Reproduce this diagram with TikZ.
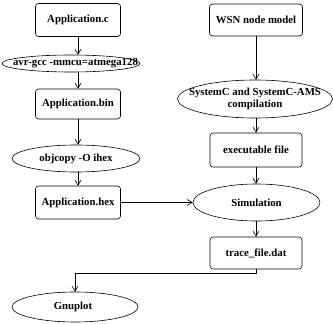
\documentclass[tikz,border=0pt]{standalone}
\usepackage{fontspec}
\setmainfont{Liberation Serif}
\usetikzlibrary{
	shapes.geometric,
	arrows.meta
}
\tikzset{
	file box/.style={
		draw,
		rounded corners=3pt,
		inner sep=2pt
	},
	tool/.style={
		draw,
		ellipse,
		inner sep=0pt
	},
	flow/.style={
		-{Straight Barb[length=5pt,width=6pt]}
	}
}

\begin{document}
\begin{tikzpicture}[x=1pt, y=-1pt, line width=0.6pt, font=\fontsize{10.8}{12}\selectfont\bfseries]
	\useasboundingbox (0,0) rectangle (333,324);
	%%%%% microcontroller side
	\node [file box, minimum width=85pt, minimum height=33pt] (appc) at (78,20) {Application.c};
	\node [tool, minimum width=138pt, minimum height=17pt,
		label={[xshift=4.5pt]center:avr-gcc -mmcu=atmega128}] (avrgcc) at (71,63.5) {};
	\node [file box, minimum width=85pt, minimum height=30pt] (appbin) at (78,104) {Application.bin};
	\node [tool, minimum width=128pt, minimum height=27pt,
		label={center:objcopy -O ihex}] (objcopy) at (76,158.5) {};
	\node [file box, minimum width=85pt, minimum height=33pt] (apphex) at (78,202.5) {Application.hex};
	\node [tool, minimum width=126pt, minimum height=30pt,
		label={[xshift=-2pt]center:Gnuplot}] (gnuplot) at (75,307) {};
	%%%%% SystemC side
	\node [file box, minimum width=93pt, minimum height=32pt] (wsn) at (256,20) {WSN node model};
	\node [tool, minimum width=155pt, minimum height=38pt,
		label={[align=center]center:SystemC and SystemC-AMS\\compilation}] (sysc) at (255,99) {};
	\node [file box, minimum width=92pt, minimum height=34pt] (exe) at (256,150) {executable file};
	\node [tool, minimum width=127pt, minimum height=37pt,
		label={center:Simulation}] (sim) at (256.5,202.5) {};
	\node [file box, minimum width=92pt, minimum height=32pt] (trace) at (256,253) {trace\_file.dat};

	\draw [flow] (appc.south) -- (appc.south |- avrgcc.north);
	\draw [flow] (appc.south |- avrgcc.south) -- (appbin.north);
	\draw [flow] (appbin.south) -- (appbin.south |- objcopy.north);
	\draw [flow] (appbin.south |- objcopy.south) -- (apphex.north);
	\draw [flow] (apphex.east) -- (sim.west);
	\draw [flow] (wsn.south) -- (wsn.south |- sysc.north);
	\draw [flow] (wsn.south |- sysc.south) -- (exe.north);
	\draw [flow] (exe.south) -- (exe.south |- sim.north);
	\draw [flow] (exe.south |- sim.south) -- (trace.north);
	\draw [flow] (trace.south) -- ++(0,4) -| (gnuplot.north);
\end{tikzpicture}
\end{document}
